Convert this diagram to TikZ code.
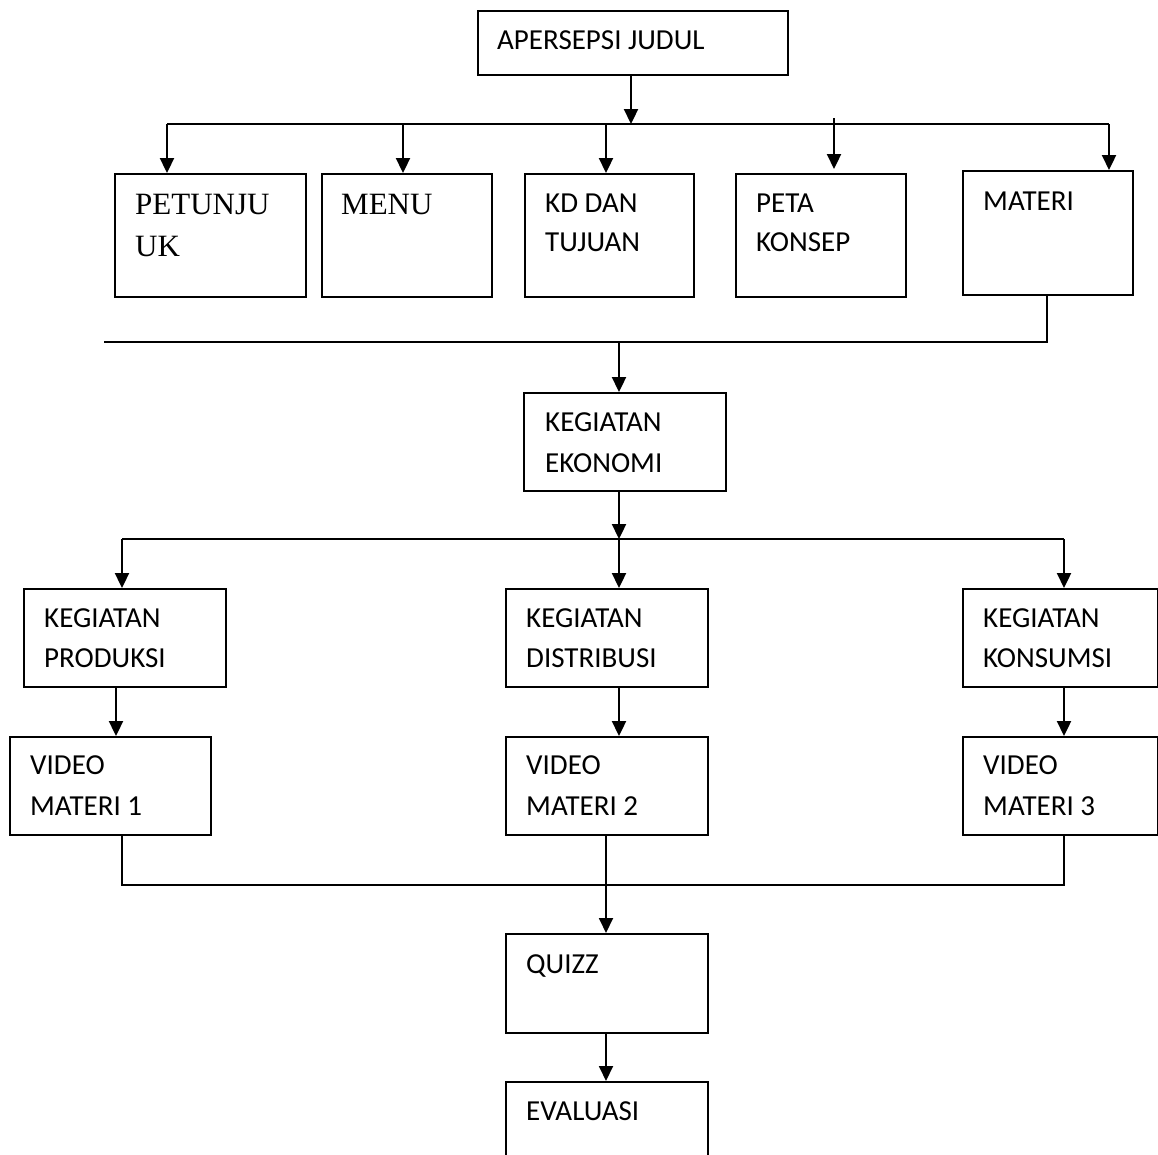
\documentclass[tikz,border=0pt]{standalone}
\usepackage{fontspec}
\setmainfont{Carlito}
\newfontfamily\serifA{Liberation Serif}
\usetikzlibrary{arrows.meta,calc}
\tikzset{
  box/.style={draw=black, line width=2pt, rectangle, inner sep=0pt, anchor=north west},
  lbl/.style={anchor=base west, inner sep=0pt, font=\fontsize{29}{34}\selectfont},
  slbl/.style={anchor=base west, inner sep=0pt, font=\serifA\fontsize{31}{37}\selectfont},
  conn/.style={line width=2.3pt, black},
  arr/.style={conn, -{Triangle[length=15pt,width=14pt]}},
  thinarr/.style={line width=1.8pt, black, -{Triangle[length=15pt,width=14pt]}}
}
\newcommand{\bx}[5]{\node[box, minimum width=#4pt, minimum height=#5pt] (#1) at (#2,#3) {};}
\begin{document}
\begin{tikzpicture}[x=1pt,y=-1pt]
\useasboundingbox (0,0) rectangle (1158,1154);
\clip (0,0) rectangle (1158,1154);
% boxes
\bx{apj}{477}{10}{310}{64}
\bx{pet}{114}{173}{191}{123}
\bx{men}{321}{173}{170}{123}
\bx{kdt}{524}{173}{169}{123}
\bx{pta}{735}{173}{170}{123}
\bx{mat}{962}{170}{170}{124}
\bx{keg}{523}{392}{202}{98}
\bx{pro}{23}{588}{202}{98}
\bx{dis}{505}{588}{202}{98}
\bx{kon}{962}{588}{195}{98}
\bx{vm1}{9}{736}{201}{98}
\bx{vm2}{505}{736}{202}{98}
\bx{vm3}{962}{736}{195}{98}
\bx{qui}{505}{933}{202}{99}
\bx{eva}{505}{1081}{202}{120}
% texts
\node[lbl] (tapj) at (497,49) {APERSEPSI JUDUL};
\node[slbl] (tpet1) at (135,214) {PETUNJU};
\node[slbl] (tpet2) at (135,256) {UK};
\node[slbl] (tmen) at (341,214) {MENU};
\node[lbl] (tkd1) at (545,212) {KD DAN};
\node[lbl] (tkd2) at (545,251) {TUJUAN};
\node[lbl] (tpt1) at (756,212) {PETA};
\node[lbl] (tpt2) at (756,251) {KONSEP};
\node[lbl] (tmat) at (983,210) {MATERI};
\node[lbl] (tkeg1) at (545,431) {KEGIATAN};
\node[lbl] (tkeg2) at (545,472) {EKONOMI};
\node[lbl] (tpro1) at (44,627) {KEGIATAN};
\node[lbl] (tpro2) at (44,667) {PRODUKSI};
\node[lbl] (tdis1) at (526,627) {KEGIATAN};
\node[lbl] (tdis2) at (526,667) {DISTRIBUSI};
\node[lbl] (tkon1) at (983,627) {KEGIATAN};
\node[lbl] (tkon2) at (983,667) {KONSUMSI};
\node[lbl] (tv11) at (30,774) {VIDEO};
\node[lbl] (tv12) at (30,815) {MATERI 1};
\node[lbl] (tv21) at (526,774) {VIDEO};
\node[lbl] (tv22) at (526,815) {MATERI 2};
\node[lbl] (tv31) at (983,774) {VIDEO};
\node[lbl] (tv32) at (983,815) {MATERI 3};
\node[lbl] (tqui) at (526,973) {QUIZZ};
\node[lbl] (teva) at (526,1120) {EVALUASI};
% bus 1
\coordinate (b1L) at (167,124);
\coordinate (b1R) at (1109,124);
\coordinate (b1T) at (631,124);
\coordinate (b1m) at (403,124);
\coordinate (b1k) at (606,124);
\coordinate (b1p) at (834,118);
\draw[arr] (apj.south -| b1T) -- (b1T);
\draw[conn] (b1L) -- (b1R);
\draw[arr] (b1L) -- (b1L |- pet.north);
\draw[arr] (b1m) -- (b1m |- men.north);
\draw[arr] (b1k) -- (b1k |- kdt.north);
\draw[arr] (b1p) -- ($(b1p |- pta.north)+(0,-4)$);
\draw[arr] (b1R) -- (b1R |- mat.north);
% bus 2
\coordinate (b2R) at (1047,342);
\coordinate (b2L) at (104,342);
\coordinate (b2M) at (619,342);
\draw[conn] (mat.south -| b2R) -- (b2R) -- (b2L);
\draw[arr] (b2M) -- (b2M |- keg.north);
% bus 3
\coordinate (b3L) at (122,539);
\coordinate (b3R) at (1064,539);
\coordinate (b3M) at (619,539);
\draw[arr] (keg.south -| b3M) -- (b3M);
\draw[conn] (b3L) -- (b3R);
\draw[arr] (b3L) -- (b3L |- pro.north);
\draw[arr] (b3M) -- (b3M |- dis.north);
\draw[arr] (b3R) -- (b3R |- kon.north);
% row 3 -> row 4
\coordinate (c1) at (116,686);
\draw[arr] (c1) -- (c1 |- vm1.north);
\draw[arr] (dis.south -| b3M) -- (b3M |- vm2.north);
\draw[arr] (kon.south -| b3R) -- (b3R |- vm3.north);
% bus 4
\coordinate (b4L) at (122,885);
\coordinate (b4R) at (1064,885);
\coordinate (b4M) at (606,885);
\draw[conn] (vm1.south -| b4L) -- (b4L) -- (b4R) -- (vm3.south -| b4R);
\draw[thinarr] (vm2.south -| b4M) -- (b4M |- qui.north);
\draw[thinarr] (qui.south -| b4M) -- (b4M |- eva.north);
\end{tikzpicture}
\end{document}
